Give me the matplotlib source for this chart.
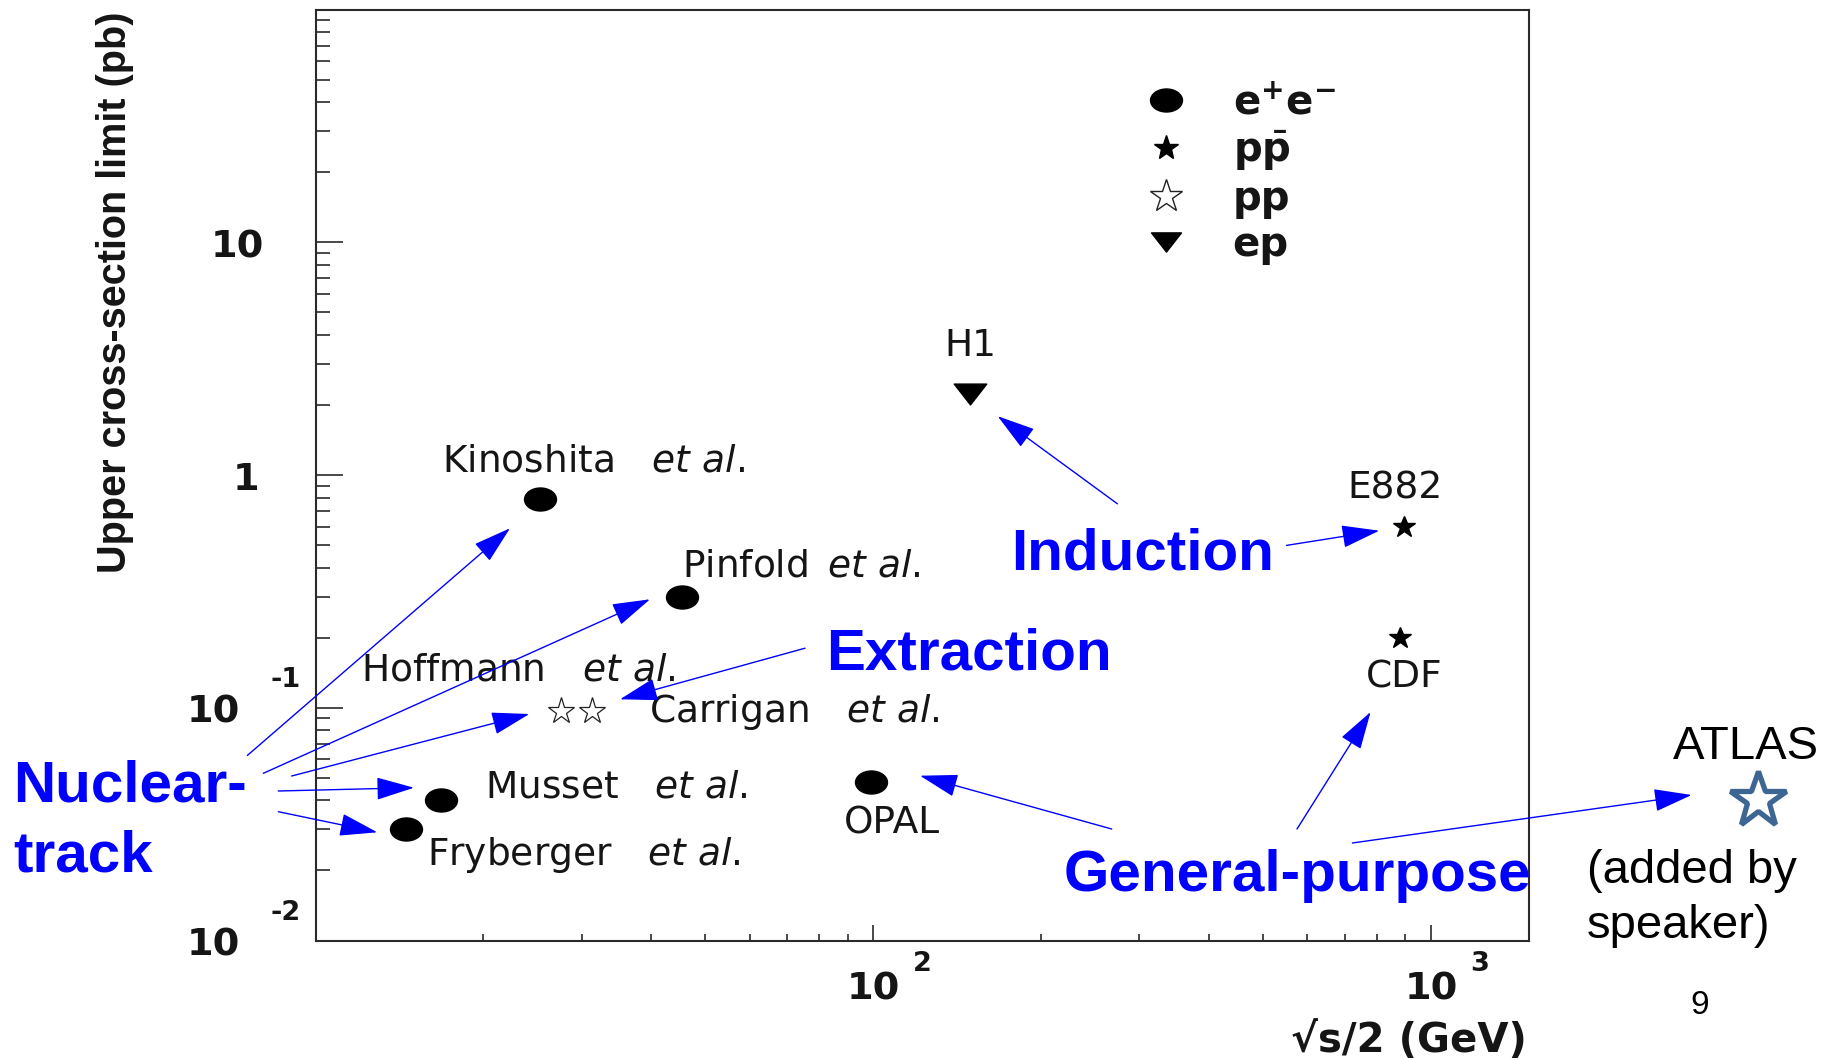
import matplotlib
matplotlib.use('Agg')
from matplotlib import pyplot as plt
from matplotlib.path import Path
from matplotlib.lines import Line2D

# values
ee_names = ['Kinoshita', 'Pinfold', 'Musset', 'Fryberger', 'OPAL']
ee_energy = [25.3, 45.3, 16.8, 14.5, 99.0]
ee_limit = [0.79, 0.30, 0.040, 0.030, 0.048]

pp_names = ['Hoffmann', 'Carrigan']
pp_energy = [27.6, 31.3]
pp_limit = [0.097, 0.097]

ppbar_names = ['E882', 'CDF']
ppbar_energy = [895, 879]
ppbar_limit = [0.60, 0.20]

ep_names = ['H1']
ep_energy = [149]
ep_limit = [2.23]

atlas_energy = [3850]
atlas_limit = [0.040]

x_ticks = [100, 1000]
x_tick_exp = ['2', '3']
y_ticks = [10, 1, 0.1, 0.01]
y_tick_base = ['10', '1', '10', '10']
y_tick_exp = ['', '', '-1', '-2']

legend_labels = ['e$^{\\mathbf{+}}$e$^{\\mathbf{-}}$', 'p$\\bar{\\mathbf{p}}$', 'pp', 'ep']

label_text = {
    'Kinoshita': r'Kinoshita$\quad\mathit{et\ al.}$',
    'Pinfold': r'Pinfold$\enspace\mathit{et\ al.}$',
    'Musset': r'Musset$\quad\mathit{et\ al.}$',
    'Fryberger': r'Fryberger$\quad\mathit{et\ al.}$',
    'OPAL': 'OPAL',
    'Hoffmann': r'Hoffmann$\quad\mathit{et\ al.}$',
    'Carrigan': r'Carrigan$\quad\mathit{et\ al.}$',
    'E882': 'E882',
    'CDF': 'CDF',
    'H1': 'H1',
}

W, H = 1825, 1060
plt.rcParams['font.family'] = ['DejaVu Sans']
plt.rcParams['mathtext.fontset'] = 'dejavusans'

fig = plt.figure(figsize=(W / 100, H / 100), dpi=100)
ax = fig.add_axes([315.6 / W, 1 - 940.5 / H, 1213.6 / W, 931.0 / H])
ax.set_xscale('log')
ax.set_yscale('log')
ax.set_xlim(10, 1500)
ax.set_ylim(0.01, 100)

for s in ax.spines.values():
    s.set_linewidth(1.5)
    s.set_color('#2a2a2a')

ax.set_xticks(x_ticks)
ax.set_yticks(y_ticks)
ax.xaxis.set_major_formatter(plt.NullFormatter())
ax.yaxis.set_major_formatter(plt.NullFormatter())
ax.xaxis.set_minor_formatter(plt.NullFormatter())
ax.yaxis.set_minor_formatter(plt.NullFormatter())
ax.tick_params(which='both', direction='in', top=False, right=False, color='#2a2a2a', width=1.2)
ax.tick_params(axis='y', which='major', length=19.5)
ax.tick_params(axis='y', which='minor', length=10)
ax.tick_params(axis='x', which='major', length=11.5)
ax.tick_params(axis='x', which='minor', length=5)

# ROOT-style tick labels with detached exponents
ink = '#151515'
ytr = ax.get_yaxis_transform()
for val, base, expo in zip(y_ticks, y_tick_base, y_tick_exp):
    dx = -54.4 if expo else (-37.4 if base == '10' else -40.2)
    ax.annotate(base, xy=(0, val), xycoords=ytr, xytext=(dx, -10.7), textcoords='offset points',
                ha='right', va='baseline', fontsize=27.5, weight='bold', color=ink, annotation_clip=False)
    if expo:
        ax.annotate(expo, xy=(0, val), xycoords=ytr, xytext=(-32.8, 14.7), textcoords='offset points',
                    ha='left', va='baseline', fontsize=19.5, weight='bold', color=ink, annotation_clip=False)
xtr = ax.get_xaxis_transform()
for val, expo in zip(x_ticks, x_tick_exp):
    ax.annotate('10', xy=(val, 0), xycoords=xtr, xytext=(0, -42.8), textcoords='offset points',
                ha='center', va='baseline', fontsize=27.5, weight='bold', color=ink, annotation_clip=False)
    ax.annotate(expo, xy=(val, 0), xycoords=xtr, xytext=(28.3, -22.3), textcoords='offset points',
                ha='left', va='baseline', fontsize=19.5, weight='bold', color=ink, annotation_clip=False)

ax.set_ylabel('Upper cross-section limit (pb)', family='Liberation Sans', weight='bold',
              fontsize=28.5, loc='top', va='center', color=ink)
ax.yaxis.set_label_coords(-0.1657, 0.9976)
ax.set_xlabel('\u221as/2 (GeV)', weight='bold', fontsize=29, loc='right', va='baseline', color=ink)
ax.xaxis.set_label_coords(0.9979, -0.1194)

# markers (the original figure is stretched sideways, so the dots are ellipses)
circ = Path.unit_circle()
ellipse = Path(circ.vertices * [1.0, 0.72], circ.codes)
tri_down = Path([(-1, 0.64), (1, 0.64), (0, -0.64), (-1, 0.64)],
                [Path.MOVETO, Path.LINETO, Path.LINETO, Path.CLOSEPOLY])

ax.plot(ee_energy, ee_limit, ls='none', marker=ellipse, ms=23, color='black')
ax.plot(pp_energy, pp_limit, ls='none', marker='*', ms=19.7, mfc='white', mec='#222222', mew=0.9)
ax.plot(ppbar_energy, ppbar_limit, ls='none', marker='*', ms=16.4, color='black')
ax.plot(ep_energy, ep_limit, ls='none', marker=tri_down, ms=23.4, color='black')
ax.plot(atlas_energy, atlas_limit, ls='none', marker='*', ms=42, mfc='white', mec='#3e6693',
        mew=3.8, clip_on=False)

# point labels, offsets in points from the marker
offsets = {
    'Kinoshita': (38, 20), 'Pinfold': (86, 14.2), 'Musset': (125.8, 1.9),
    'Fryberger': (128.4, -25.9), 'OPAL': (15.2, -37.4), 'Hoffmann': (-31, 21.6),
    'Carrigan': (145.4, -8.4), 'E882': (-6.3, 20), 'CDF': (3, -35.9), 'H1': (0, 27.5),
}
for names, xs, ys in [(ee_names, ee_energy, ee_limit), (pp_names, pp_energy, pp_limit),
                      (ppbar_names, ppbar_energy, ppbar_limit), (ep_names, ep_energy, ep_limit)]:
    for n, x, y in zip(names, xs, ys):
        ax.annotate(label_text[n], xy=(x, y), xytext=offsets[n], textcoords='offset points',
                    ha='center', va='baseline', fontsize=27, color=ink)

handles = [
    Line2D([], [], ls='none', marker=ellipse, ms=23, color='black'),
    Line2D([], [], ls='none', marker='*', ms=18.2, color='black'),
    Line2D([], [], ls='none', marker='*', ms=24.7, mfc='white', mec='#222222', mew=1.0),
    Line2D([], [], ls='none', marker=tri_down, ms=21.6, color='black'),
]
ax.legend(handles, legend_labels, loc='upper left', bbox_to_anchor=(0.6843, 0.9209), frameon=False,
          prop=dict(weight='bold', size=29), handlelength=1.0, handletextpad=1.15, labelspacing=0.15,
          borderpad=0, borderaxespad=0, numpoints=1, labelcolor=ink)

# speaker annotations (figure pixel coordinates, y from the top)
blue = '#0000ff'
for s, x, y in [('Nuclear-', 12.8, 801.8), ('track', 12.8, 871.4), ('Extraction', 826, 670),
                ('Induction', 1011, 569), ('General-purpose', 1064, 890.6)]:
    fig.text(x / W, 1 - y / H, s, color=blue, family='Liberation Sans', weight='bold',
             fontsize=42, ha='left', va='baseline')

arrows = [
    ((247.4, 755.4), (510, 528.3)),
    ((263.3, 773.3), (650, 599.3)),
    ((291.7, 776.0), (529.3, 714)),
    ((278.3, 791.0), (414, 787.7)),
    ((278.3, 811.7), (377.3, 832.3)),
    ((805.0, 648.2), (620, 699.3)),
    ((1117.4, 503.8), (997.7, 416.2)),
    ((1286.5, 545.4), (1379.3, 530.7)),
    ((1111.7, 829.0), (920, 775.7)),
    ((1297.0, 829.0), (1370.6, 712)),
    ((1352.4, 843.0), (1691.7, 795)),
]
for (x0, y0), (x1, y1) in arrows:
    ax.annotate('', xy=(x1, H - y1), xytext=(x0, H - y0), xycoords='figure pixels',
                textcoords='figure pixels', annotation_clip=False,
                arrowprops=dict(arrowstyle='-|>,head_length=2.4,head_width=0.72', mutation_scale=10,
                                color=blue, lw=1.0, shrinkA=0, shrinkB=0))

for s, x, y in [('ATLAS', 1673, 759.3), ('(added by', 1586.7, 883), ('speaker)', 1586.7, 938)]:
    fig.text(x / W, 1 - y / H, s, color='black', family='Liberation Sans', fontsize=34,
             ha='left', va='baseline')
fig.text(1690.5 / W, 1 - 1014 / H, '9', color='black', family='Liberation Sans', fontsize=24,
         ha='left', va='baseline')

fig.savefig('out.png', dpi=100, facecolor='white')
